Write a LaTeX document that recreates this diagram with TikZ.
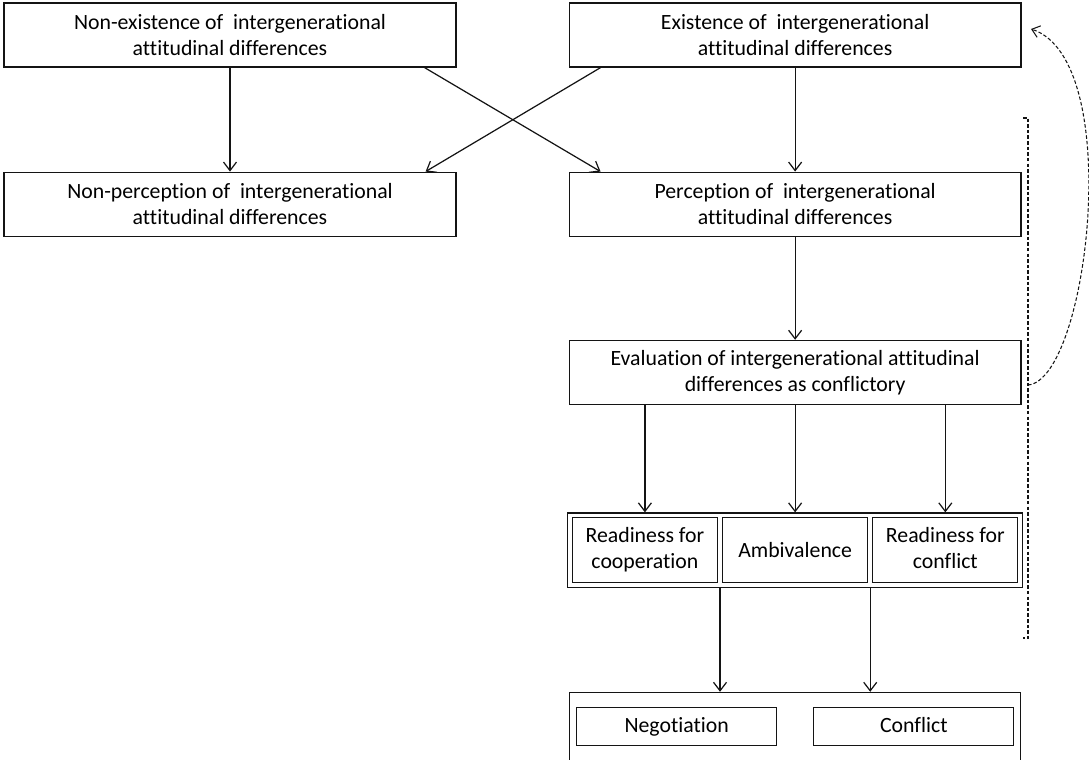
\documentclass[tikz,border=0pt]{standalone}
\usepackage{fontspec}
\setmainfont{Carlito}[Ligatures={NoCommon}]
\usetikzlibrary{arrows.meta, positioning, fit, calc}
\definecolor{LineBlack}{RGB}{20,20,20}

\tikzset{
  procbox/.style={draw=LineBlack, line width=0.7pt, minimum width=9.04cm, minimum height=1.28cm, inner sep=0pt, align=center, font=\fontsize{12.4}{14.8}\selectfont},
  smallbox/.style={draw=LineBlack, line width=0.7pt, minimum width=2.9cm, minimum height=1.3cm, inner sep=0pt, align=center, font=\fontsize{12.4}{14.8}\selectfont},
  outbox/.style={draw=LineBlack, line width=0.7pt, minimum width=4cm, minimum height=0.76cm, inner sep=0pt, text height=9.6pt, text depth=2.6pt, font=\fontsize{12.4}{14.8}\selectfont},
  arr/.style={draw=LineBlack, line width=0.7pt, -{Straight Barb[length=1.7mm, width=2.6mm]}},
  dashline/.style={draw=LineBlack, line width=0.6pt, dash pattern=on 2pt off 1.2pt}
}

\begin{document}
\begin{tikzpicture}[x=0.02cm, y=-0.02cm]
\useasboundingbox (0,0) rectangle (1089,760);
\node[procbox] (NE) at (230,35) {Non-existence of\ \ intergenerational\\attitudinal differences};
\node[procbox, right=2.24cm of NE] (E) {Existence of\ \ intergenerational\\attitudinal differences};
\node[procbox, below=2.08cm of NE] (NP) {Non-perception of\ \ intergenerational\\attitudinal differences};
\node[procbox, below=2.08cm of E] (P) {Perception of\ \ intergenerational\\attitudinal differences};
\node[procbox, below=2.06cm of P] (EV) {Evaluation of intergenerational attitudinal\\differences as conflictory};

% readiness group
\node[smallbox, below=2.24cm of EV] (AM) {Ambivalence};
\node[smallbox, left=0.08cm of AM] (RC) {\strut Readiness for\\cooperation\strut};
\node[smallbox, right=0.08cm of AM] (RF) {\strut Readiness for\\conflict\strut};
\node[draw=LineBlack, line width=0.7pt, fit=(RC)(RF), inner sep=0.08cm] (RD) {};

% outcome group
\node[draw=LineBlack, line width=0.7pt, minimum width=9.02cm, minimum height=1.6cm, inner sep=0pt, below=2.08cm of RD] (OUT) {};
\node[outbox, below right=0.3cm and 0.14cm of OUT.north west] (NG) {Negotiation};
\node[outbox, right=0.72cm of NG] (CF) {Conflict};

\draw[arr] (NE) -- (NP);
\draw[arr] (E) -- (P);
\draw[arr] (NE.south east) ++(-32,0) coordinate (NEx) (NEx) -- ($(P.north west)+(32,0)$);
\draw[arr] ($(E.south west)+(32,0)$) -- ($(NP.north east)+(-31,0)$);
\draw[arr] (P) -- (EV);
\draw[arr] (EV.south -| RC.north) -- (RD.north -| RC.north);
\draw[arr] (EV) -- (RD);
\draw[arr] (EV.south -| RF.north) -- (RD.north -| RF.north);
\coordinate (G1) at ($(RC.east)!.5!(AM.west)$);
\coordinate (G2) at ($(AM.east)!.5!(RF.west)$);
\draw[arr] (G1 |- RD.south) -- (G1 |- OUT.north);
\draw[arr] (G2 |- RD.south) -- (G2 |- OUT.north);

% bracket and feedback
\coordinate (BT) at (1028,118);
\coordinate (BB) at (1028,638);
\coordinate (FB) at (1028,385);
\coordinate (FT) at (1031,29);
\draw[dashline] ($(BT)+(-5,0)$) -- (BT) -- (BB) -- ($(BB)+(-5,0)$);
\draw[dashline, -{Straight Barb[length=1.5mm, width=2.4mm]}] (FB) .. controls (1088,380) and (1126,60) .. (FT);
\end{tikzpicture}
\end{document}
